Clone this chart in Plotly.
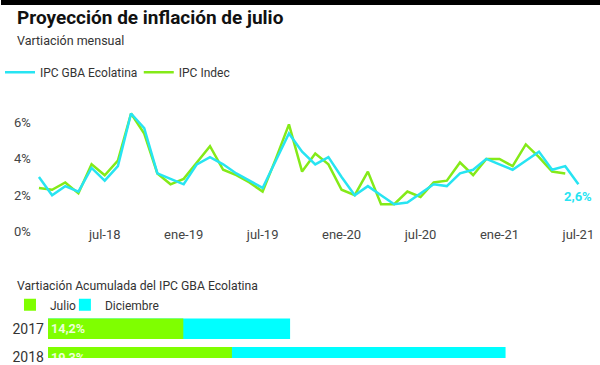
import plotly.graph_objects as go

months = ["feb-18", "mar-18", "abr-18", "may-18", "jun-18", "jul-18", "ago-18", "sep-18", "oct-18", "nov-18", "dic-18",
          "ene-19", "feb-19", "mar-19", "abr-19", "may-19", "jun-19", "jul-19", "ago-19", "sep-19", "oct-19", "nov-19", "dic-19",
          "ene-20", "feb-20", "mar-20", "abr-20", "may-20", "jun-20", "jul-20", "ago-20", "sep-20", "oct-20", "nov-20", "dic-20",
          "ene-21", "feb-21", "mar-21", "abr-21", "may-21", "jun-21", "jul-21"]

ecolatina = [3.0, 2.0, 2.5, 2.2, 3.5, 2.8, 3.6, 6.5, 5.7, 3.2, 2.9,
             2.6, 3.7, 4.1, 3.7, 3.2, 2.8, 2.4, 3.9, 5.4, 4.4, 3.7, 4.1,
             3.0, 2.0, 2.5, 2.0, 1.5, 1.6, 2.1, 2.6, 2.5, 3.2, 3.4, 4.0,
             3.7, 3.4, 3.9, 4.4, 3.4, 3.6, 2.6]

indec = [2.4, 2.3, 2.7, 2.1, 3.7, 3.1, 3.9, 6.5, 5.4, 3.2, 2.6,
         2.9, 3.8, 4.7, 3.4, 3.1, 2.7, 2.2, 4.0, 5.9, 3.3, 4.3, 3.7,
         2.3, 2.0, 3.3, 1.5, 1.5, 2.2, 1.9, 2.7, 2.8, 3.8, 3.1, 4.0,
         4.0, 3.6, 4.8, 4.1, 3.3, 3.2]

tick_months = ["jul-18", "ene-19", "jul-19", "ene-20", "jul-20", "ene-21", "jul-21"]
y_ticks = [0, 2, 4, 6]
y_tick_labels = ["0%", "2%", "4%", "6%"]

years = ["2017", "2018"]
acum_julio = [14.2, 19.3]
acum_diciembre = [25.4, 48.0]
julio_labels = ["14,2%", "19,3%"]

CYAN = "#27E4F2"
GREEN = "#84EA18"
BAR_CYAN = "#00FFFF"
BAR_GREEN = "#7FFF00"
FONT = "Roboto"

W, H = 600, 365
def px(x):
    return x / W
def py(y):
    return 1 - y / H

fig = go.Figure()

fig.add_trace(go.Scatter(x=months[:len(indec)], y=indec, mode="lines", name="IPC Indec",
                         line=dict(color=GREEN, width=2.5), legend="legend3",
                         xaxis="x", yaxis="y"))
fig.add_trace(go.Scatter(x=months, y=ecolatina, mode="lines", name="IPC GBA Ecolatina",
                         line=dict(color=CYAN, width=2.5), legend="legend",
                         xaxis="x", yaxis="y"))

fig.add_trace(go.Bar(y=years, x=acum_diciembre, orientation="h", name="Diciembre",
                     marker=dict(color=BAR_CYAN, line=dict(width=0)), width=0.72,
                     legend="legend4", xaxis="x2", yaxis="y2", hoverinfo="x"))
fig.add_trace(go.Bar(y=years, x=acum_julio, orientation="h", name="Julio",
                     marker=dict(color=BAR_GREEN, line=dict(width=0)), width=0.72,
                     text=julio_labels, textposition="inside", insidetextanchor="start",
                     textfont=dict(family=FONT, size=14, color="#EEFFD8", weight="bold"),
                     legend="legend2", xaxis="x2", yaxis="y2", hoverinfo="x"))

x0 = 38
step = 13.18
leg_font = dict(family=FONT, size=12, color="#333")
leg_common = dict(orientation="h", xanchor="left", yanchor="top", bgcolor="rgba(0,0,0,0)",
                  itemwidth=30, font=leg_font)
fig.update_layout(
    xaxis=dict(domain=[px(10), 1], type="category", categoryorder="array", categoryarray=months,
               range=[(10 - x0) / step, (600 - x0) / step],
               tickvals=tick_months, ticktext=tick_months, ticklabelstandoff=-16,
               showgrid=False, zeroline=False, showline=False, ticks="",
               tickfont=dict(family=FONT, size=13, color="#444"), anchor="y"),
    yaxis=dict(domain=[py(246), py(96)], range=[-(246 - 236) / 18.5, (236 - 96) / 18.5],
               tickvals=y_ticks, ticktext=y_tick_labels, ticklabelposition="inside",
               showgrid=False, zeroline=False, showline=False, ticks="",
               tickfont=dict(family=FONT, size=13, color="#444"), anchor="x"),
    xaxis2=dict(domain=[px(47), 1], range=[0, (600 - 47) / 9.55], visible=False, anchor="y2"),
    yaxis2=dict(domain=[0, py(312)], type="category", categoryorder="array", categoryarray=years,
                range=[1.03, -0.80], showgrid=False, zeroline=False, showline=False, ticks="",
                tickfont=dict(family=FONT, size=14, color="#333"), anchor="x2", ticklabelstandoff=3),
    barmode="overlay",
    width=W, height=H,
    margin=dict(l=0, r=0, t=0, b=0),
    paper_bgcolor="white", plot_bgcolor="white",
    font=dict(family=FONT, color="#333"),
    showlegend=True,
    legend=dict(x=px(-1), y=py(59), **leg_common),
    legend3=dict(x=px(138), y=py(59), **leg_common),
    legend2=dict(x=px(9), y=py(296), **leg_common),
    legend4=dict(x=px(64), y=py(296), **leg_common),
)

fig.add_shape(type="rect", xref="paper", yref="paper", x0=0, x1=1, y0=py(5), y1=1,
              fillcolor="black", line=dict(width=0), layer="above")

fig.add_annotation(text="<b>Proyección de inflación de julio</b>", xref="paper", yref="paper",
                   x=px(14), y=py(18), xanchor="left", yanchor="middle", showarrow=False,
                   font=dict(family=FONT, size=19, color="#111"))
fig.add_annotation(text="Vartiación mensual", xref="paper", yref="paper",
                   x=px(14), y=py(41), xanchor="left", yanchor="middle", showarrow=False,
                   font=dict(family=FONT, size=12.5, color="#333"))
fig.add_annotation(text="Vartiación Acumulada del IPC GBA Ecolatina", xref="paper", yref="paper",
                   x=px(14), y=py(292), xanchor="left", yanchor="middle", showarrow=False,
                   font=dict(family=FONT, size=12.2, color="#333"))
fig.add_annotation(text="<b>2,6%</b>", x=months[-1], y=ecolatina[-1], xref="x", yref="y",
                   xanchor="right", yanchor="middle", xshift=16, yshift=-12, showarrow=False,
                   font=dict(family=FONT, size=13, color=CYAN))

fig.write_html("out.html", config={"displayModeBar": False},
               post_script="document.body.style.margin='0';document.body.style.overflow='hidden';")
